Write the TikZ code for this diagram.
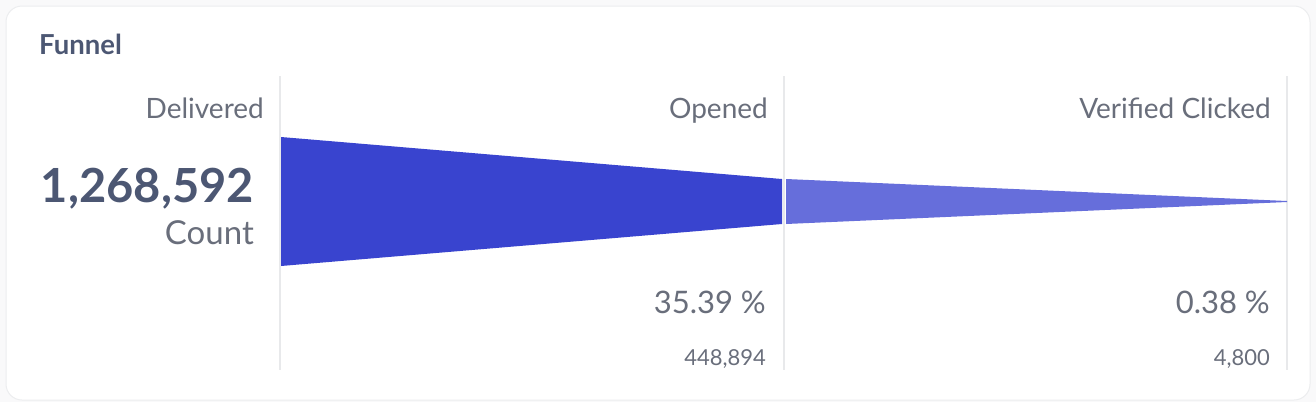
\documentclass[tikz,border=0pt]{standalone}
\usepackage{fontspec}
\setmainfont{Lato}
\definecolor{pagebg}{HTML}{F9F9FA}
\definecolor{cardborder}{HTML}{ECEDEF}
\definecolor{gridline}{HTML}{E8E9EB}
\definecolor{titlec}{HTML}{4C5773}
\definecolor{labelc}{HTML}{696E7B}
\definecolor{funnelA}{HTML}{3944CF}
\definecolor{funnelB}{HTML}{666EDB}
\tikzset{
  lbl/.style={anchor=base east, inner sep=0pt, text=labelc, font=\fontsize{28}{28}\selectfont},
  pct/.style={anchor=base east, inner sep=0pt, text=labelc, font=\fontsize{31}{31}\selectfont},
  cnt/.style={anchor=base east, inner sep=0pt, text=labelc, font=\fontsize{22}{22}\selectfont},
  grid/.style={draw=gridline, line width=1.2pt}
}
\begin{document}
\begin{tikzpicture}[x=1pt,y=-1pt]
\fill[pagebg] (0,0) rectangle (1316,402);
\useasboundingbox (0,0) rectangle (1316,402);
\filldraw[fill=white, draw=cardborder, line width=1pt, rounded corners=16pt] (6,6) rectangle (1310,400);
% grid lines
\draw[grid] (280,76) -- (280,370);
\draw[grid] (784,76) -- (784,370);
\draw[grid] (1287,76) -- (1287,370);
% funnel
\fill[funnelA] (281,137) -- (782,179) -- (782,224) -- (281,266) -- cycle;
\fill[funnelB] (786,179) -- (1287,201) -- (1287,202) -- (786,224) -- cycle;
% texts
\node[anchor=base west, inner sep=0pt, text=titlec, font=\fontsize{27.5}{27.5}\selectfont\bfseries] (title) at (39,54) {Funnel};
\node[lbl] (s1) at (264,118) {Delivered};
\node[lbl] (s2) at (768,118) {Opened};
\node[lbl] (s3) at (1271,118) {Verified Clicked};
\node[anchor=base east, inner sep=0pt, text=titlec, font=\fontsize{47}{47}\selectfont\bfseries] (total) at (254,202) {1,268,592};
\node[anchor=base east, inner sep=0pt, text=labelc, font=\fontsize{33}{33}\selectfont] (unit) at (254,244) {Count};
\node[pct] (p2) at (766,313) {35.39 \%};
\node[pct] (p3) at (1270,313) {0.38 \%};
\node[cnt] (c2) at (766,365) {448,894};
\node[cnt] (c3) at (1270,365) {4,800};
\end{tikzpicture}
\end{document}
